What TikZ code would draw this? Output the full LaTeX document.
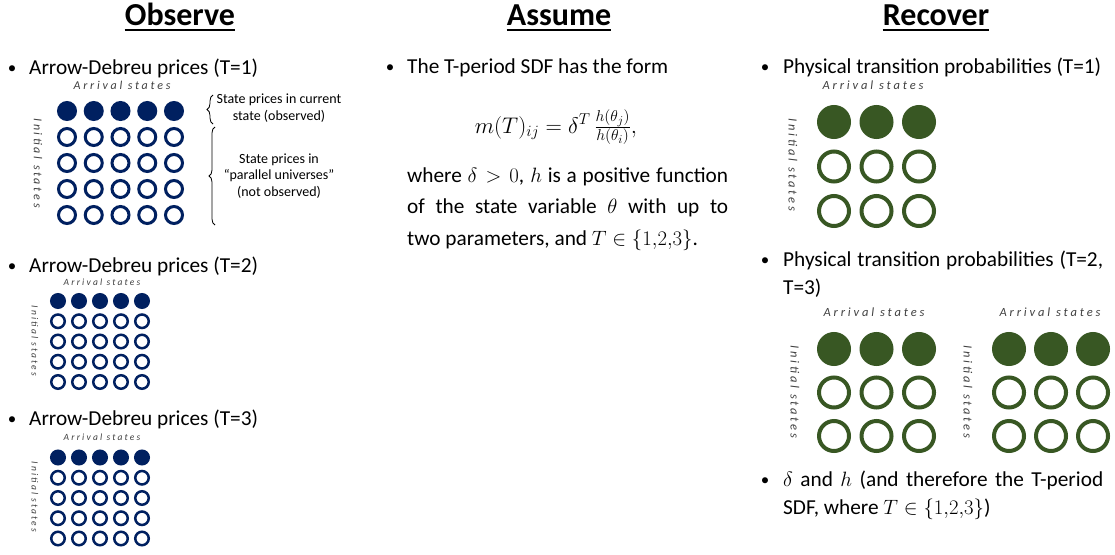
\documentclass[tikz,border=0pt]{standalone}
\usepackage[no-math]{fontspec}
\setmainfont{Carlito}
\newfontfamily\spaced[LetterSpace=23]{Carlito}
\usetikzlibrary{decorations.pathreplacing}
\definecolor{navy}{HTML}{002060}
\definecolor{leaf}{HTML}{385723}
\definecolor{lbl}{HTML}{404040}

\begin{document}
\begin{tikzpicture}[x=1pt,y=-1pt,every node/.style={inner sep=0pt},
  head/.style={anchor=base,font=\fontsize{32}{38}\selectfont\bfseries},
  txt/.style={anchor=base west,align=left,font=\fontsize{21.3}{28}\selectfont},
  bul/.style={anchor=base,font=\fontsize{17}{28}\selectfont},
  note/.style={align=center,font=\fontsize{14}{16.5}\selectfont},
  statelab/.style={text=lbl,font=\spaced\itshape\fontsize{#1}{#1}\selectfont},
  dot/.style 2 args={circle,minimum size=#1,line width=#2},
  brc/.style={decorate,decoration={brace,amplitude=6pt},line width=0.8pt}]

\fill[white] (0,0) rectangle (1115,554);
\useasboundingbox (0,0) rectangle (1115,554);

\node[head] (obs) at (180,25) {Observe};
\node[head] (asm) at (559,25) {Assume};
\node[head] (rec) at (936,25) {Recover};
\foreach \t in {obs,asm,rec}
  \draw[line width=1.8pt] ([yshift=-5pt]\t.base west) -- ([yshift=-5pt]\t.base east);

% Observe
\node[bul] (ob1) at (12,73) {\textbullet};
\node[txt] (ad1) at (29,74) {Arrow-Debreu prices (T=1)};
\node[bul] (ob2) at (12,271) {\textbullet};
\node[txt] (ad2) at (29,272) {Arrow-Debreu prices (T=2)};
\node[bul] (ob3) at (12,424) {\textbullet};
\node[txt] (ad3) at (29,425) {Arrow-Debreu prices (T=3)};

\node[statelab=12] (arrA) at (122,85) {Arrival states};
\node[statelab=12,rotate=-90] (iniA) at (38,163) {Initial states};
\node[statelab=9.5] (arrB) at (102,282) {Arrival states};
\node[statelab=9.5,rotate=-90] (iniB) at (35,341) {Initial states};
\node[statelab=9.5] (arrC) at (102,437) {Arrival states};
\node[statelab=9.5,rotate=-90] (iniC) at (35,497) {Initial states};

\foreach \g/\xo/\yo/\dx/\dy/\ms/\lw in {A/67/111/26.75/26/17/3, B/58/301/21/20.25/13.5/2.5, C/58/457.5/21/20.25/13.5/2.5}
  \foreach \c in {0,...,4}{
    \node[dot={\ms pt}{\lw pt},draw=navy,fill=navy] (\g-0-\c) at (\xo+\dx*\c,\yo) {};
    \foreach \r in {1,...,4}
      \node[dot={\ms pt}{\lw pt},draw=navy] (\g-\r-\c) at (\xo+\dx*\c,\yo+\dy*\r) {};
  }

\coordinate (curtop) at (213,95);
\coordinate (curbot) at (213,124);
\coordinate (partop) at (215,127);
\coordinate (parbot) at (215,225);
\draw[brc] (curbot) -- (curtop);
\draw[brc] (parbot) -- (partop);
\node[note] (curnote) at (279,108) {State prices in current\\state (observed)};
\node[note] (parnote) at (279,176) {State prices in\\“parallel universes”\\(not observed)};

% Assume
\node[bul] (as1) at (390,72) {\textbullet};
\node[txt] (sdf) at (407,73) {The T-period SDF has the form};
\node[anchor=base,scale=1.09,font=\fontsize{21.3}{28}\selectfont] (sdfform) at (556,133)
  {$m(T)_{ij}=\delta^{T}\,\frac{h(\theta_j)}{h(\theta_i)},$};
\node[txt,font=\fontsize{21.3}{31.5}\selectfont] (cond) at (407,245)
  {\makebox[321pt][s]{where $\delta>0$, $h$ is a positive function}\\
   \makebox[321pt][s]{of the state variable $\theta$ with up to}\\
   two parameters, and $T\in\{1{,}2{,}3\}$.};

% Recover
\node[bul] (re1) at (765,72) {\textbullet};
\node[txt] (pt1) at (783,73) {Physical transition probabilities (T=1)};
\node[bul] (re2) at (765,265) {\textbullet};
\node[txt] (pt2) at (783,294) {\makebox[320pt][s]{Physical transition probabilities (T=2,}\\T=3)};
\node[bul] (re3) at (765,485) {\textbullet};
\node[txt] (dh) at (783,514) {\makebox[320pt][s]{$\delta$ and $h$ (and therefore the T-period}\\SDF, where $T\in\{1{,}2{,}3\}$)};

\node[statelab=12.5] (arrD) at (873,85) {Arrival states};
\node[statelab=12.5,rotate=-90] (iniD) at (793,165) {Initial states};
\node[statelab=12.5] (arrE) at (874,312) {Arrival states};
\node[statelab=12.5,rotate=-90] (iniE) at (795,392) {Initial states};
\node[statelab=12.5] (arrF) at (1050,312) {Arrival states};
\node[statelab=12.5,rotate=-90] (iniF) at (968,392) {Initial states};

\foreach \g/\xo/\yo/\dx/\dy in {D/834/122/42.5/44.5, E/834/349/42.5/43.5, F/1009/349/42/43.5}
  \foreach \c in {0,1,2}{
    \node[dot={30pt}{4pt},draw=leaf,fill=leaf] (\g-0-\c) at (\xo+\dx*\c,\yo) {};
    \foreach \r in {1,2}
      \node[dot={30pt}{4pt},draw=leaf] (\g-\r-\c) at (\xo+\dx*\c,\yo+\dy*\r) {};
  }
\end{tikzpicture}
\end{document}
